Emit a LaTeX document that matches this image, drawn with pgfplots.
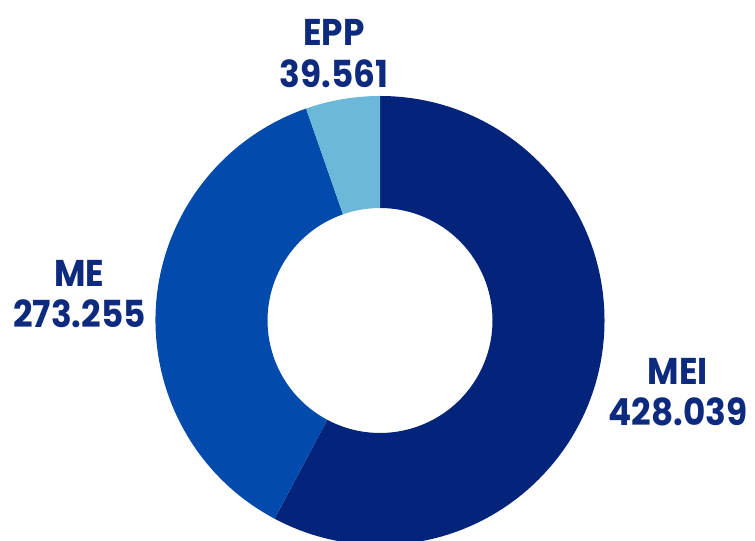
\documentclass[border=0pt]{standalone}
\usepackage{pgfplots}
\usepackage{pgfplotstable}
\usepackage{fontspec}
\pgfplotsset{compat=1.18}
\setmainfont{Poppins}[BoldFont={Poppins Bold}, BoldFeatures={FakeStretch=0.92}]

\definecolor{meicol}{HTML}{04247B}
\definecolor{mecol}{HTML}{024AAB}
\definecolor{eppcol}{HTML}{6CB8D8}
\definecolor{txtcol}{HTML}{0D2A7E}

\pgfplotstableread{
label value
MEI 428.039
ME  273.255
EPP 39.561
}\donutdata

\begin{document}
\begin{tikzpicture}
  \begin{axis}[
      width=7.55cm, height=5.41cm,
      scale only axis,
      axis equal image,
      xmin=-1.6927, xmax=1.6704,
      ymin=-0.9822, ymax=1.4276,
      hide axis,
      clip=true,
    ]
    \addplot[draw=none] coordinates {(0,0)};
    % angles from the table, clockwise from the top
    \pgfplotstablegetelem{0}{value}\of\donutdata \let\valA\pgfplotsretval
    \pgfplotstablegetelem{1}{value}\of\donutdata \let\valB\pgfplotsretval
    \pgfplotstablegetelem{2}{value}\of\donutdata \let\valC\pgfplotsretval
    \pgfmathsetmacro{\tot}{\valA+\valB+\valC}
    \pgfmathsetmacro{\angA}{90-360*(\valA/\tot)}
    \pgfmathsetmacro{\angB}{\angA-360*(\valB/\tot)}
    \pgfmathsetmacro{\angC}{\angB-360*(\valC/\tot)}
    \def\donutwedge#1#2#3{%
      \fill[#1] (axis cs:{cos(#2)},{sin(#2)}) arc[start angle=#2, end angle=#3, radius=2.245cm]
        -- (axis cs:{0.501*cos(#3)},{0.501*sin(#3)}) arc[start angle=#3, end angle=#2, radius=1.1247cm] -- cycle;}
    \donutwedge{meicol}{90}{\angA}
    \donutwedge{mecol}{\angA}{\angB}
    \donutwedge{eppcol}{\angB}{\angC}
    \begin{scope}[every node/.style={align=center, text=txtcol, inner sep=0pt,
        font=\fontsize{10.6}{11.7}\selectfont\bfseries}]
      \node at (axis cs:-0.205,1.189) {EPP\\39.561};
      \node at (axis cs:-1.3385,0.118) {ME\\273.255};
      \node at (axis cs:1.327,-0.318) {MEI\\428.039};
    \end{scope}
  \end{axis}
  % page = axis box; the ring is cut at the bottom as in the original
  \pgfresetboundingbox
  \path[use as bounding box] (current axis.south west) rectangle (current axis.north east);
\end{tikzpicture}
\end{document}
